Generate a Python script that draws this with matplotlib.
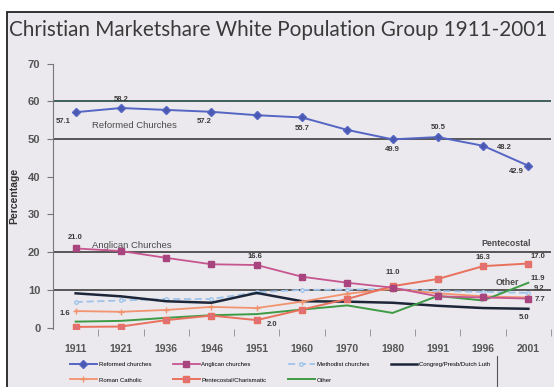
import matplotlib
matplotlib.use("Agg")
import matplotlib.pyplot as plt
from matplotlib.patches import Rectangle
from matplotlib.lines import Line2D

anos = ["1911", "1921", "1936", "1946", "1951", "1960", "1970", "1980", "1991", "1996", "2001"]

reformadas = [57.1, 58.2, 57.7, 57.2, 56.3, 55.7, 52.4, 49.9, 50.5, 48.2, 42.9]
anglicanas = [21.0, 20.3, 18.5, 16.8, 16.6, 13.5, 11.9, 10.6, 8.3, 8.0, 7.7]
metodistas = [6.8, 7.2, 7.6, 7.6, 9.4, 10.0, 10.1, 10.3, 9.7, 9.5, 9.2]
congreg = [9.1, 8.3, 7.0, 6.6, 9.2, 7.0, 6.9, 6.6, 5.8, 5.2, 5.0]
catolicos = [4.4, 4.2, 4.7, 5.5, 5.2, 6.9, 9.0, 10.3, 9.1, 8.3, 8.0]
pentecostais = [0.2, 0.3, 2.0, 3.2, 2.0, 4.8, 7.6, 11.0, 12.9, 16.3, 17.0]
outras = [1.6, 1.8, 2.6, 3.3, 3.6, 4.8, 5.9, 3.9, 8.4, 7.2, 11.9]

# rótulos de valor: (série, índice do ano, dx, dy em pontos)
rotulos = [
    (reformadas, 0, -9, -7),
    (reformadas, 1, 0, 6),
    (reformadas, 3, -5, -7),
    (reformadas, 5, 0, -8),
    (reformadas, 7, 0, -7),
    (reformadas, 8, 0, 7),
    (reformadas, 9, 15, -1),
    (reformadas, 10, -9, -4),
    (anglicanas, 0, 0, 8),
    (anglicanas, 4, -1, 6),
    (anglicanas, 10, 8, -1),
    (pentecostais, 4, 11, -3),
    (pentecostais, 7, 0, 10),
    (pentecostais, 9, 0, 6),
    (pentecostais, 10, 7, 5),
    (outras, 0, -8, 6),
    (outras, 10, 7, 3),
    (metodistas, 10, 8, 3),
    (congreg, 10, -3, -6),
]

plt.rcParams["font.family"] = ["Liberation Sans", "DejaVu Sans"]

fig = plt.figure(figsize=(5.54, 3.87), dpi=100, facecolor="white")

# fundo do slide com a borda
fig.patches.append(Rectangle((7 / 554, -0.05), 1.0, 1 - 12 / 387 + 0.05,
                             transform=fig.transFigure, facecolor="#ebe9ed",
                             edgecolor="#222222", linewidth=1.3, zorder=-10))

fig.text(9 / 554, 1 - 30 / 387, "Christian Marketshare White Population Group 1911-2001",
         family=["Lato", "DejaVu Sans"], fontsize=14.9, color="#3a3a3a",
         va="center", ha="left")

ax = fig.add_axes([53 / 554, 1 - 328.8 / 387, 498 / 554, (328.8 - 63.5) / 387])
ax.set_facecolor("none")

x = list(range(len(anos)))

for nivel, cor in [(60, "#3f5f5c"), (50, "#555555"), (20, "#555555"), (10, "#555555")]:
    ax.axhline(nivel, color=cor, linewidth=1.4, zorder=1)

ax.plot(x, metodistas, color="#9fc3ea", linewidth=1.3, linestyle=(0, (4, 2)),
        marker="o", markersize=2.5, markerfacecolor="#e8eef8", label="Methodist churches", zorder=3)
ax.plot(x, congreg, color="#1d2538", linewidth=1.8, label="Congreg/Presb/Dutch Luth", zorder=3)
ax.plot(x, catolicos, color="#f2936f", linewidth=1.3, marker="+", markersize=4,
        label="Roman Catholic", zorder=3)
ax.plot(x, outras, color="#3f9a45", linewidth=1.4, label="Other", zorder=3)
ax.plot(x, pentecostais, color="#e8705c", linewidth=1.4, marker="s", markersize=4,
        markerfacecolor="#e0707a", label="Pentecostal/Charismatic", zorder=4)
ax.plot(x, anglicanas, color="#c65590", linewidth=1.3, marker="s", markersize=5,
        markerfacecolor="#a8447e", markeredgecolor="#a8447e", label="Anglican churches", zorder=4)
ax.plot(x, reformadas, color="#5565c4", linewidth=1.4, marker="D", markersize=4,
        markerfacecolor="#4a58b0", label="Reformed churches", zorder=4)

for serie, i, dx, dy in rotulos:
    ax.annotate(f"{serie[i]:.1f}", (i, serie[i]), xytext=(dx, dy), textcoords="offset points",
                ha="center", va="center", fontsize=5.5, fontweight="bold", color="#3a3a3a", zorder=6)

ax.text(1.3, 53.7, "Reformed Churches", fontsize=6.8, color="#4a4a4a", va="center", ha="center")
ax.text(1.25, 21.9, "Anglican Churches", fontsize=6.8, color="#4a4a4a", va="center", ha="center")
ax.text(9.5, 22.4, "Pentecostal", fontsize=6.3, fontweight="bold", color="#4a4a4a", va="center", ha="center")
ax.text(9.53, 12.1, "Other", fontsize=6.3, fontweight="bold", color="#4a4a4a", va="center", ha="center")

ax.set_xlim(-0.5, len(anos) - 0.5)
ax.set_ylim(-0.3, 70)
ax.set_yticks(range(0, 71, 10))
ax.set_xticks(x)
ax.set_xticklabels(anos)
ax.set_xticks([i + 0.5 for i in x], minor=True)
ax.tick_params(axis="x", which="major", length=0, pad=11, labelsize=7.5, labelcolor="#555555")
ax.tick_params(axis="x", which="minor", length=5, color="#999999", width=0.7)
ax.tick_params(axis="y", length=4, color="#777777", pad=5, labelsize=8, labelcolor="#555555")
for lbl in ax.get_xticklabels() + ax.get_yticklabels():
    lbl.set_fontweight("bold")

for lado in ["top", "right", "bottom"]:
    ax.spines[lado].set_visible(False)
ax.spines["left"].set_color("#777777")

ax.set_ylabel("Percentage", fontsize=7.5, fontweight="bold", color="#333333", labelpad=6)

handles, labels = ax.get_legend_handles_labels()
ordem = ["Reformed churches", "Roman Catholic", "Anglican churches", "Pentecostal/Charismatic",
         "Methodist churches", "Other", "Congreg/Presb/Dutch Luth"]
hmap = dict(zip(labels, handles))
fig.legend([hmap[k] for k in ordem], ordem, ncol=4, loc="upper left",
           bbox_to_anchor=(70 / 554, 1 - 362 / 387), frameon=False, fontsize=4.3,
           handlelength=4.5, handletextpad=0.3, columnspacing=3.6, labelspacing=1.7,
           borderaxespad=0, borderpad=0)
fig.lines.append(Line2D([497 / 554, 497 / 554], [0, 1 - 356 / 387], transform=fig.transFigure,
                        color="#555555", linewidth=0.8))

fig.savefig("out.png", dpi=100, facecolor=fig.get_facecolor())
